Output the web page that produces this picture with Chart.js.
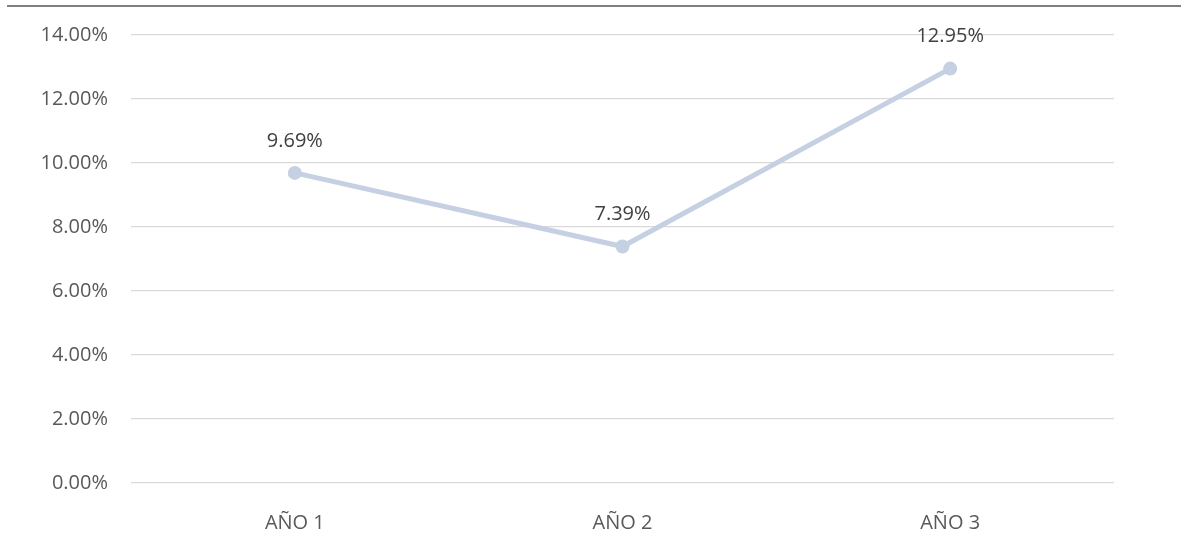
<!DOCTYPE html>
<html>
<head>
<meta charset="utf-8">
<script src="https://cdn.jsdelivr.net/npm/chart.js@4"></script>
<style>
    html, body { margin: 0; padding: 0; background: #fff; }
    .frame { position: relative; width: 1181px; height: 546px; }
    .topline { position: absolute; left: 7px; right: 0; top: 5px; height: 2px; background: #7f7f7f; }
    canvas { position: absolute; left: 0; top: 0; }
</style>
</head>
<body>
<div class="frame">
    <div class="topline"></div>
    <canvas id="chart" width="1181" height="546"></canvas>
</div>
<script>
// --- DATA ---
const years = ['AÑO 1', 'AÑO 2', 'AÑO 3'];
const rates = [0.0969, 0.0739, 0.1295];
const yTicks = [0, 0.02, 0.04, 0.06, 0.08, 0.10, 0.12, 0.14];

const FONT = "'Open Sans', 'Noto Sans', sans-serif";
const TEXT = '#595959';
const SIZE = 20;

function pct(v) {
    return (v * 100).toFixed(2) + '%';
}

// value labels above each point
const pointLabels = {
    id: 'pointLabels',
    afterDatasetsDraw(chart) {
        const ctx = chart.ctx;
        const meta = chart.getDatasetMeta(0);
        ctx.save();
        ctx.font = SIZE + 'px ' + FONT;
        ctx.fillStyle = '#404040';
        ctx.textAlign = 'center';
        ctx.textBaseline = 'middle';
        meta.data.forEach((pt, i) => {
            ctx.fillText(pct(rates[i]), pt.x, pt.y - 32);
        });
        ctx.restore();
    }
};

new Chart(document.getElementById('chart').getContext('2d'), {
    type: 'line',
    data: {
        labels: years,
        datasets: [{
            data: rates,
            borderColor: '#c5d0e2',
            backgroundColor: '#c5d0e2',
            borderWidth: 5,
            pointRadius: 7,
            pointBorderWidth: 0,
            tension: 0
        }]
    },
    options: {
        responsive: false,
        animation: false,
        layout: { padding: { top: 34, right: 67, left: 0, bottom: 0 } },
        plugins: { legend: { display: false }, tooltip: { enabled: false } },
        scales: {
            x: {
                offset: true,
                grid: { display: false },
                border: { display: false },
                ticks: { color: TEXT, font: { family: FONT, size: SIZE }, padding: 20 },
                afterFit: s => { s.height = 63; }
            },
            y: {
                min: 0,
                max: 0.14,
                afterBuildTicks: s => { s.ticks = yTicks.map(v => ({ value: v })); },
                grid: { color: '#d9d9d9', lineWidth: 1.3, drawTicks: false },
                border: { display: false },
                ticks: { color: TEXT, font: { family: FONT, size: SIZE }, padding: 23, callback: v => pct(v) },
                afterFit: s => { s.width = 131; }
            }
        }
    },
    plugins: [pointLabels]
});
</script>
</body>
</html>
